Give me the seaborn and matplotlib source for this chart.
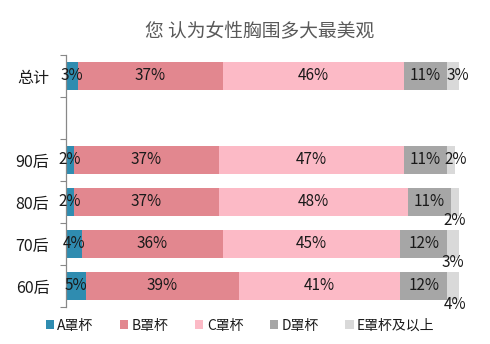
import matplotlib
matplotlib.use("Agg")
import matplotlib.pyplot as plt
import seaborn as sns
import pandas as pd
import numpy as np
from matplotlib.patches import Patch

sns.set_theme(style="white")
plt.rcParams['font.family'] = ['Noto Sans CJK SC', 'DejaVu Sans']

title = "您 认为女性胸围多大最美观"
groups = ["总计", "90后", "80后", "70后", "60后"]
order = ["总计", " ", "90后", "80后", "70后", "60后"]
series = ["A罩杯", "B罩杯", "C罩杯", "D罩杯", "E罩杯及以上"]
a_vals = [3, 2, 2, 4, 5]
b_vals = [37, 37, 37, 36, 39]
c_vals = [46, 47, 48, 45, 41]
d_vals = [11, 11, 11, 12, 12]
e_vals = [3, 2, 2, 3, 4]
colors = ["#2f8cb0", "#e2878f", "#fcbac6", "#a6a6a6", "#d9d9d9"]
below_label_groups = ["80后", "70后", "60后"]

vals = np.array([a_vals, b_vals, c_vals, d_vals, e_vals], dtype=float)
cum = np.cumsum(vals, axis=0)

fig = plt.figure(figsize=(4.9, 3.44), dpi=100)
ax = fig.add_axes([66/490, 1 - 307/344, (459 - 66)/490, (307 - 55)/344])

for i in range(len(series) - 1, -1, -1):
    df = pd.DataFrame({"group": groups, "value": cum[i]})
    sns.barplot(data=df, x="value", y="group", order=order, color=colors[i],
                width=0.66, ax=ax, orient="h", saturation=1, linewidth=0)

pos = {g: order.index(g) for g in groups}
for i in range(len(series)):
    for j, g in enumerate(groups):
        v = vals[i, j]
        xc = cum[i, j] - v / 2
        y = pos[g]
        if i == len(series) - 1:
            if g in below_label_groups:
                y = y + 0.44
            else:
                xc = xc + 1.2
        ax.text(xc, y, f"{int(v)}%", ha="center", va="center",
                fontsize=11, color="#1a1a1a")

ax.set_xlim(0, 100)
ax.set_ylim(5.5, -0.5)
ax.set_xlabel("")
ax.set_ylabel("")
ax.set_xticks([])
ax.set_yticks(range(len(order)))
ax.set_yticklabels(order, fontsize=11.5, color="#1a1a1a")
ax.tick_params(axis="y", which="major", length=0, pad=12)
ax.set_yticks(np.arange(-0.5, 6, 1.0), minor=True)
ax.tick_params(axis="y", which="minor", length=4, color="#888888", width=0.8, left=True)
for s in ["top", "right", "bottom"]:
    ax.spines[s].set_visible(False)
ax.spines["left"].set_color("#888888")
ax.spines["left"].set_linewidth(0.9)

fig.text(0.53, 0.912, title, ha="center", va="center", fontsize=13.5, color="#595959")

handles = [Patch(facecolor=c, edgecolor="none") for c in colors]
fig.legend(handles, series, loc="center", bbox_to_anchor=(0.49, 0.053), ncol=5,
           frameon=False, fontsize=10, handlelength=0.6, handleheight=0.6,
           handletextpad=0.25, columnspacing=1.9, labelcolor="#1a1a1a")

fig.savefig("out.png", dpi=100, facecolor="white")
